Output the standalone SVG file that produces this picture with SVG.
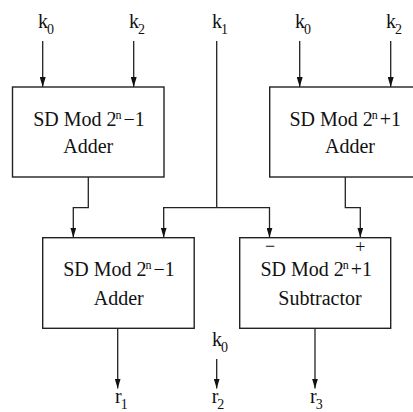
<svg xmlns="http://www.w3.org/2000/svg" width="413" height="412" viewBox="0 0 413 412" font-family="Liberation Serif, serif">
<style>
.t{font-size:20px;fill:#111}
.sub{font-size:14px}
.sup{font-size:12px}
.sign{font-size:18px}
.box{fill:#fff;stroke:#222;stroke-width:1.4}
.w{fill:none;stroke:#222;stroke-width:1.3}
</style>
<defs>
<marker id="arr" viewBox="0 0 10 6" refX="10" refY="3" markerWidth="10" markerHeight="6" markerUnits="userSpaceOnUse" orient="auto">
<path d="M0,0 L10,3 L0,6 z" fill="#111"/>
</marker>
</defs>
<rect width="413" height="412" fill="#fff"/>
<g id="connectors">
<path class="w" d="M42.7,41 V87" marker-end="url(#arr)"/>
<path class="w" d="M133.7,41 V87" marker-end="url(#arr)"/>
<path class="w" d="M299.7,41 V87" marker-end="url(#arr)"/>
<path class="w" d="M390.7,41 V87" marker-end="url(#arr)"/>
<path class="w" d="M216.7,41 V207.7"/>
<path class="w" d="M88.3,177 V207.7 H73.3 V237.5" marker-end="url(#arr)"/>
<path class="w" d="M216.7,207.7 H163.7 V237.5" marker-end="url(#arr)"/>
<path class="w" d="M216.7,207.7 H269.5 V237.5" marker-end="url(#arr)"/>
<path class="w" d="M345.3,177 V207.7 H360.3 V237.5" marker-end="url(#arr)"/>
<path class="w" d="M117.7,328.3 V388.5" marker-end="url(#arr)"/>
<path class="w" d="M315,328.3 V388.5" marker-end="url(#arr)"/>
<path class="w" d="M216.7,359 V388.5" marker-end="url(#arr)"/>
</g>
<g id="k-inputs" font-family="Liberation Serif, serif">
<text class="t" font-family="Liberation Serif, serif" x="38" y="28.3">k<tspan class="sub" dx="-1" dy="6">0</tspan></text>
<text class="t" font-family="Liberation Serif, serif" x="129" y="28.3">k<tspan class="sub" dx="-1" dy="6">2</tspan></text>
<text class="t" font-family="Liberation Serif, serif" x="212" y="28.3">k<tspan class="sub" dx="-1" dy="6">1</tspan></text>
<text class="t" font-family="Liberation Serif, serif" x="295" y="28.3">k<tspan class="sub" dx="-1" dy="6">0</tspan></text>
<text class="t" font-family="Liberation Serif, serif" x="386" y="28.3">k<tspan class="sub" dx="-1" dy="6">2</tspan></text>
<text class="t" font-family="Liberation Serif, serif" x="212" y="345.7">k<tspan class="sub" dx="-1" dy="6">0</tspan></text>
</g>
<g id="outputs" font-family="Liberation Serif, serif">
<text class="t" font-family="Liberation Serif, serif" x="115" y="403">r<tspan class="sub" dx="-1" dy="6">1</tspan></text>
<text class="t" font-family="Liberation Serif, serif" x="211.7" y="403">r<tspan class="sub" dx="-1" dy="6">2</tspan></text>
<text class="t" font-family="Liberation Serif, serif" x="310" y="403">r<tspan class="sub" dx="-1" dy="6">3</tspan></text>
</g>
<g id="adder-minus-top" font-family="Liberation Serif, serif">
<rect class="box" x="12.5" y="87" width="151.5" height="90"/>
<text class="t" font-family="Liberation Serif, serif" x="89" y="125.7" text-anchor="middle">SD Mod 2<tspan class="sup" dx="-1" dy="-7">n</tspan><tspan dx="2" dy="7">−1</tspan></text>
<text class="t" font-family="Liberation Serif, serif" x="88.3" y="153.3" text-anchor="middle">Adder</text>
</g>
<g id="adder-plus-top" font-family="Liberation Serif, serif">
<rect class="box" x="269.7" y="87" width="151.5" height="90"/>
<text class="t" font-family="Liberation Serif, serif" x="345.3" y="125.7" text-anchor="middle">SD Mod 2<tspan class="sup" dx="-1" dy="-7">n</tspan><tspan dx="2" dy="7">+1</tspan></text>
<text class="t" font-family="Liberation Serif, serif" x="350" y="153.3" text-anchor="middle">Adder</text>
</g>
<g id="adder-minus-bottom" font-family="Liberation Serif, serif">
<rect class="box" x="42.7" y="237.7" width="151.5" height="90.6"/>
<text class="t" font-family="Liberation Serif, serif" x="119" y="276" text-anchor="middle">SD Mod 2<tspan class="sup" dx="-1" dy="-7">n</tspan><tspan dx="2" dy="7">−1</tspan></text>
<text class="t" font-family="Liberation Serif, serif" x="118.7" y="305" text-anchor="middle">Adder</text>
</g>
<g id="subtractor" font-family="Liberation Serif, serif">
<rect class="box" x="239.7" y="237.7" width="151" height="90.6"/>
<text class="t sign" font-family="Liberation Serif, serif" x="270" y="252" text-anchor="middle">−</text>
<text class="t sign" font-family="Liberation Serif, serif" x="360.3" y="253" text-anchor="middle">+</text>
<text class="t" font-family="Liberation Serif, serif" x="316.3" y="275.5" text-anchor="middle">SD Mod 2<tspan class="sup" dx="-1" dy="-7">n</tspan><tspan dx="2" dy="7">+1</tspan></text>
<text class="t" font-family="Liberation Serif, serif" x="320" y="305" text-anchor="middle">Subtractor</text>
</g>
</svg>
